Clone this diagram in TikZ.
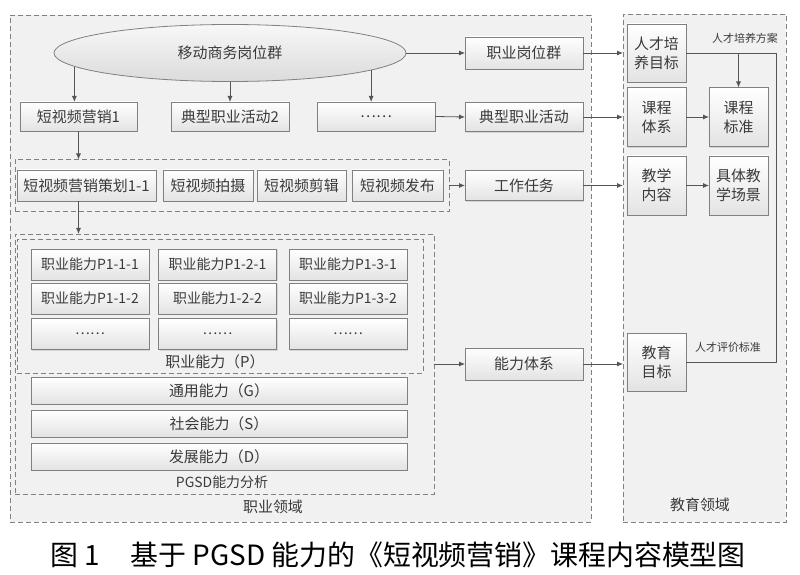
\documentclass[tikz,border=0pt]{standalone}
\usepackage{fontspec}
\setmainfont{Noto Sans CJK SC}
\usetikzlibrary{arrows.meta, shapes.geometric, shadows}
\definecolor{txt}{HTML}{3A3A3A}
\definecolor{edge}{HTML}{808080}
\definecolor{linec}{HTML}{555555}
\definecolor{area}{HTML}{F1F1F1}

\begin{document}
\begin{tikzpicture}[x=1bp, y=-1bp,
    zone/.style={draw=edge, line width=.8bp, dash pattern=on 5bp off 3bp, inner sep=0pt, outer sep=0pt},
    box/.style={draw=edge, line width=.8bp, top color=white, bottom color=gray!22,
      drop shadow={shadow xshift=1.2bp, shadow yshift=-1.2bp, opacity=.25},
      text=txt, font=\fontsize{15}{19}\selectfont, align=center,
      inner sep=0pt, outer sep=0pt, minimum width=118bp, minimum height=29bp},
    pbox/.style={box, font=\fontsize{14}{17}\selectfont, minimum height=31bp},
    sbox/.style={box, minimum width=59bp, minimum height=59bp},
    lbl/.style={text=txt, font=\fontsize{15}{18}\selectfont, inner sep=0pt},
    small/.style={text=txt, font=\fontsize{11}{13}\selectfont, inner sep=0pt},
    line/.style={draw=linec, line width=.8bp},
    arr/.style={line, -{Latex[length=6bp, width=5bp]}}]
  \useasboundingbox (0,0) rectangle (800,575);
  \node[zone, fill=area, minimum width=581bp, minimum height=507bp] (occ) at (300.5,268.5) {};
  \node[zone, fill=area, minimum width=163bp, minimum height=508bp] (edu) at (704.5,268) {};
  \node[zone, minimum width=434bp, minimum height=52bp] (taskgrp) at (232,185.5) {};
  \node[zone, minimum width=419bp, minimum height=260bp] (pgsd) at (224.5,364) {};
  \node[zone, minimum width=406bp, minimum height=134bp] (pgrp) at (220,306) {};

  \node[ellipse, draw=edge, line width=.8bp, top color=gray!6, bottom color=gray!28,
    text=txt, font=\fontsize{15}{18}\selectfont, inner sep=0pt,
    minimum width=352bp, minimum height=57bp] (ell) at (230,53) {移动商务岗位群};
  \node[box, minimum width=117bp] (sv1) at (78.5,116.5) {短视频营销1};
  \node[box] (hd2) at (230,116.5) {典型职业活动2};
  \node[box] (dots1) at (376,116.5) {……};

  \node[box, minimum width=139bp, minimum height=31bp] (t1) at (86.5,185.5) {短视频营销策划1-1};
  \node[box, minimum width=90bp, minimum height=31bp] (t2) at (208,185.5) {短视频拍摄};
  \node[box, minimum width=89bp, minimum height=31bp] (t3) at (301.5,185.5) {短视频剪辑};
  \node[box, minimum width=91bp, minimum height=31bp] (t4) at (397.5,185.5) {短视频发布};

  \node[pbox] (p11) at (90,264.5) {职业能力P1-1-1};
  \node[pbox] (p21) at (217.5,264.5) {职业能力P1-2-1};
  \node[pbox] (p31) at (348,264.5) {职业能力P1-3-1};
  \node[pbox] (p12) at (90,298.5) {职业能力P1-1-2};
  \node[pbox] (p22) at (217.5,298.5) {职业能力1-2-2};
  \node[pbox] (p32) at (348,298.5) {职业能力P1-3-2};
  \node[pbox] (p13) at (90,334) {……};
  \node[pbox] (p23) at (217.5,334) {……};
  \node[pbox] (p33) at (348,334) {……};
  \node[lbl] (plbl) at (215,362) {职业能力（P）};

  \node[box, minimum width=376bp, minimum height=27bp] (gen) at (219,390.5) {通用能力（G）};
  \node[box, minimum width=376bp, minimum height=27bp] (soc) at (219,423.5) {社会能力（S）};
  \node[box, minimum width=376bp, minimum height=27bp] (dev) at (219,456.5) {发展能力（D）};
  \node[lbl, font=\fontsize{14}{17}\selectfont] (pgsdlbl) at (222,482) {PGSD能力分析};
  \node[lbl] (occlbl) at (273,507) {职业领域};

  \node[box, minimum height=32bp] (zygw) at (524,53) {职业岗位群};
  \node[box] (dxhd) at (524,117) {典型职业活动};
  \node[box, minimum height=30bp] (gzrw) at (524,185.5) {工作任务};
  \node[box, minimum height=32bp] (nltx) at (524,364) {能力体系};

  \node[sbox, minimum height=58bp] (rcpy) at (656.5,53) {人才培\\养目标};
  \node[sbox] (kctx) at (656.5,117) {课程\\体系};
  \node[sbox] (kcbz) at (738.5,117) {课程\\标准};
  \node[sbox] (jxnr) at (656.5,185.5) {教学\\内容};
  \node[sbox] (jtcj) at (738.5,185.5) {具体教\\学场景};
  \node[sbox, minimum height=58bp] (jymb) at (656.5,362) {教育\\目标};
  \node[small] (pyfa) at (745,38) {人才培养方案};
  \node[small] (pjbz) at (728,347) {人才评价标准};
  \node[lbl] (edulbl) at (700,505) {教育领域};
  \coordinate (bend) at (776,53);

  \draw[arr] (ell.185.5) -- (ell.185.5 |- sv1.north);
  \draw[arr] (ell.south) -- (hd2.north);
  \draw[arr] (ell.353.8) -- (ell.353.8 |- dots1.north);
  \draw[arr] (sv1.south) -- (sv1.south |- taskgrp.north);
  \draw[arr] (sv1.south |- t1.south) -- (sv1.south |- pgsd.north);

  \draw[arr] (ell.east) -- (zygw.west);
  \draw[arr] (dots1.east) -- (dxhd.west);
  \draw[arr] (taskgrp.east) -- (gzrw.west);
  \draw[arr] (pgsd.east) -- (nltx.west);

  \draw[arr, shorten >=4bp] (zygw.east) -- (rcpy.west);
  \draw[arr, shorten >=4bp] (dxhd.east) -- (kctx.west);
  \draw[arr, shorten >=4bp] (gzrw.east) -- (jxnr.west);
  \draw[arr, shorten >=4bp] (nltx.east) -- (nltx.east -| jymb.west);

  \draw[arr] (kctx.east) -- (kcbz.west);
  \draw[arr] (jxnr.east) -- (jtcj.west);
  \draw[line] (rcpy.east) -- (bend) |- (jymb.east);
  \draw[arr] (kcbz.north |- rcpy.east) -- (kcbz.north);

  \node[text=black, font=\fontsize{28}{32}\selectfont, inner sep=0pt] (cap) at (398,555)
    {图 1\hspace{1.1em}基于 PGSD 能力的《短视频营销》课程内容模型图};
\end{tikzpicture}
\end{document}
